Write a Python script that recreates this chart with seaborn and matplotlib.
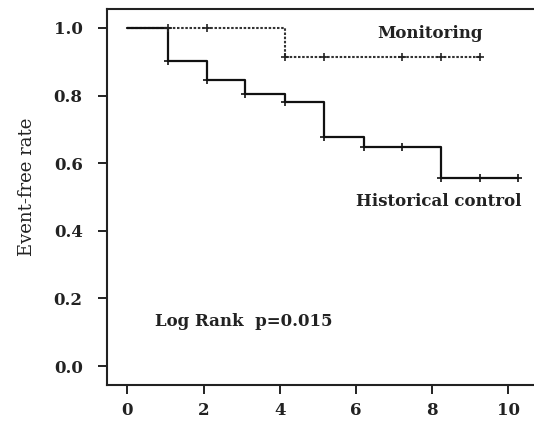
import numpy as np
import pandas as pd
import seaborn as sns
import matplotlib.pyplot as plt

# Kaplan-Meier step curves (time in x units, event-free rate)
hist_time = [0.0, 1.08, 2.10, 3.10, 4.15, 5.17, 6.20, 8.23, 10.25]
hist_rate = [1.0, 0.902, 0.846, 0.804, 0.782, 0.678, 0.649, 0.557, 0.557]
hist_cens_time = [1.08, 2.10, 3.10, 4.15, 5.17, 6.20, 7.20, 8.23, 9.26, 10.25]
hist_cens_rate = [0.902, 0.846, 0.804, 0.782, 0.678, 0.649, 0.649, 0.557, 0.557, 0.557]

mon_time = [0.0, 4.15, 9.26]
mon_rate = [1.0, 0.915, 0.915]
mon_cens_time = [1.08, 2.10, 4.15, 5.17, 7.20, 8.23, 9.26]
mon_cens_rate = [1.0, 1.0, 0.915, 0.915, 0.915, 0.915, 0.915]

x_ticks = [0, 2, 4, 6, 8, 10]
y_ticks = [0.0, 0.2, 0.4, 0.6, 0.8, 1.0]

hist = pd.DataFrame({"time": hist_time, "rate": hist_rate})
mon = pd.DataFrame({"time": mon_time, "rate": mon_rate})
hist_c = pd.DataFrame({"time": hist_cens_time, "rate": hist_cens_rate})
mon_c = pd.DataFrame({"time": mon_cens_time, "rate": mon_cens_rate})

sns.set_style("ticks")
plt.rcParams["font.family"] = ["DejaVu Serif"]
plt.rcParams["font.weight"] = "bold"

fig = plt.figure(figsize=(5.34, 4.21), dpi=100)
ax = fig.add_axes([0.2004, 0.0855, 0.7996, 0.893])

sns.lineplot(data=mon, x="time", y="rate", ax=ax, estimator=None, sort=False,
             drawstyle="steps-post", color="#333333", linestyle=(0, (1.2, 0.8)), linewidth=1.5)
sns.lineplot(data=hist, x="time", y="rate", ax=ax, estimator=None, sort=False,
             drawstyle="steps-post", color="#111111", linewidth=1.6)
sns.scatterplot(data=mon_c, x="time", y="rate", ax=ax, marker="+", s=40,
                color="#222222", linewidth=1.2, zorder=3)
sns.scatterplot(data=hist_c, x="time", y="rate", ax=ax, marker="+", s=40,
                color="#111111", linewidth=1.2, zorder=3)

ax.text(7.94, 0.985, "Monitoring", ha="center", va="center", fontsize=12, color="#222222")
ax.text(8.17, 0.486, "Historical control", ha="center", va="center", fontsize=12, color="#222222")
ax.text(3.06, 0.131, "Log Rank  p=0.015", ha="center", va="center", fontsize=12, color="#222222")

ax.set_xlim(-0.533, 10.67)
ax.set_ylim(-0.056, 1.056)
ax.set_xticks(x_ticks)
ax.set_yticks(y_ticks)
ax.set_xticklabels([str(t) for t in x_ticks])
ax.set_yticklabels([f"{t:.1f}" for t in y_ticks])
ax.set_xlabel("")
ax.set_ylabel("Event-free rate", fontsize=13, fontweight="normal", color="#222222")
ax.yaxis.set_label_coords(-0.166, 0.527)

for side in ["left", "bottom", "top"]:
    ax.spines[side].set_linewidth(1.5)
    ax.spines[side].set_color("#222222")
ax.spines["right"].set_visible(False)
ax.tick_params(axis="both", length=6.5, width=1.4, labelsize=12, colors="#222222")
ax.tick_params(axis="y", pad=11)
ax.tick_params(axis="x", pad=6)

fig.savefig("out.png", dpi=100)
